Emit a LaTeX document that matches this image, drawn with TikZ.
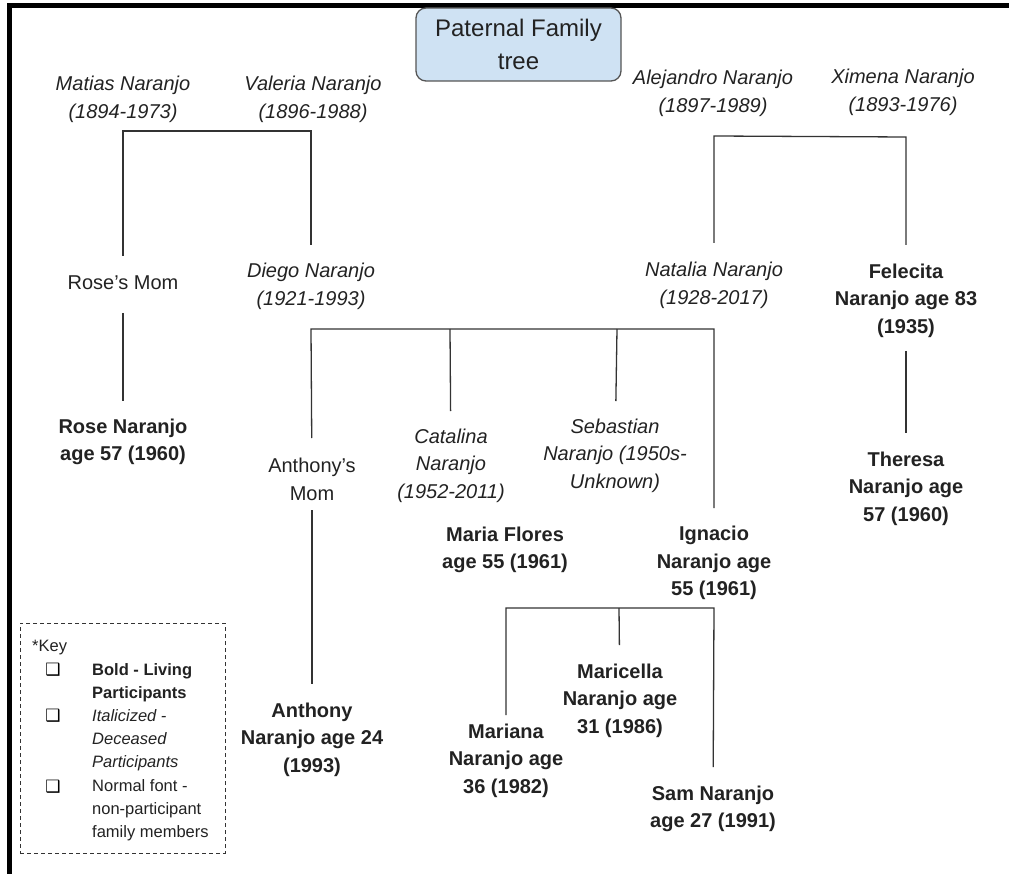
\documentclass[tikz,border=0pt]{standalone}
\usepackage{fontspec}
\setmainfont{Liberation Sans}
\newfontfamily\symfont{DejaVu Sans}
\definecolor{inkgray}{HTML}{222222}
\definecolor{linegray}{HTML}{333333}
\definecolor{titlefill}{HTML}{CFE2F3}
\definecolor{titleedge}{HTML}{555555}
\begin{document}
\begin{tikzpicture}[x=1pt,y=-1pt,
  person/.style={align=center,inner sep=0pt,text=inkgray,
    font=\fontsize{20}{27.5}\selectfont},
  dead/.style={person,font=\fontsize{20}{27.5}\selectfont\itshape},
  alive/.style={person,font=\fontsize{20}{27.5}\selectfont\bfseries},
  link/.style={draw=linegray,line width=1.3pt},
  titlebox/.style={draw=titleedge,line width=1.3pt,fill=titlefill,rounded corners=10pt,
    minimum width=205pt,minimum height=73pt,align=center,text=inkgray,
    font=\fontsize{24}{33}\selectfont},
  keybox/.style={draw=linegray,line width=1pt,dash pattern=on 4pt off 3pt,
    minimum width=205pt,minimum height=230pt,inner sep=0pt},
  keytext/.style={anchor=west,align=left,inner sep=0pt,text=inkgray,
    font=\fontsize{16.5}{22.8}\selectfont},
  keymark/.style={inner sep=0pt,text=black,font=\symfont\fontsize{17}{17}\selectfont}
]
\useasboundingbox (0,0) rectangle (1009,874);

% page frame (top and left edges)
\draw[line width=5pt,black] (9.5,874) -- (9.5,5.5) -- (1009,5.5);

% title
\node[titlebox] (title) at (518.5,44.5) {Paternal Family\\tree};

% grandparents
\node[dead] (matias)    at (123,99.5)  {Matias Naranjo\\(1894-1973)};
\node[dead] (valeria)   at (313,99.5)  {Valeria Naranjo\\(1896-1988)};
\node[dead] (alejandro) at (713,93.5)  {Alejandro Naranjo\\(1897-1989)};
\node[dead] (ximena)    at (903,92.5)  {Ximena Naranjo\\(1893-1976)};

% parents' generation
\node[person] (rosemom) at (123,283)   {Rose’s Mom};
\node[dead] (diego)     at (311,286.5) {Diego Naranjo\\(1921-1993)};
\node[dead] (natalia)   at (714,285.5) {Natalia Naranjo\\(1928-2017)};
\node[alive] (felecita) at (906,300.5) {Felecita\\Naranjo age 83\\(1935)};

% children
\node[alive] (rose)       at (123,442)   {Rose Naranjo\\age 57 (1960)};
\node[person] (anthmom)   at (312,479.5) {Anthony’s\\Mom};
\node[dead] (catalina)    at (451,465.5) {Catalina\\Naranjo\\(1952-2011)};
\node[dead] (sebastian)   at (615,455.5) {Sebastian\\Naranjo (1950s-\\Unknown)};
\node[alive] (theresa)    at (906,488.5) {Theresa\\Naranjo age\\57 (1960)};
\node[alive] (maria)      at (505,550)   {Maria Flores\\age 55 (1961)};
\node[alive] (ignacio)    at (714,563)   {Ignacio\\Naranjo age\\55 (1961)};

% grandchildren
\node[alive] (anthony)   at (312,739.5) {Anthony\\Naranjo age 24\\(1993)};
\node[alive] (maricella) at (620,700.5) {Maricella\\Naranjo age\\31 (1986)};
\node[alive] (mariana)   at (506,760.5) {Mariana\\Naranjo age\\36 (1982)};
\node[alive] (sam)       at (713,809)   {Sam Naranjo\\age 27 (1991)};

% junction points of the family brackets
\coordinate (mvL) at (123,131);
\coordinate (mvR) at (311,131);
\coordinate (axL) at (714,136);
\coordinate (axR) at (906,137);
\coordinate (dnL) at (311,329);
\coordinate (dnR) at (714,329);
\coordinate (dnC) at (450,329);
\coordinate (dnS) at (617,329);
\coordinate (miL) at (506,608);
\coordinate (miR) at (714,608);
\coordinate (miC) at (619,608);

% Matias & Valeria -> Rose's Mom, Diego
\draw[link,shorten <=27pt,shorten >=41.5pt] (rosemom.center) -- (mvL) -- (mvR) -- (diego.center);
% Alejandro & Ximena -> Natalia, Felecita
\draw[link,shorten <=42.5pt,shorten >=55.5pt] (natalia.center) -- (axL) -- (axR) -- (felecita.center);
% Rose's Mom -> Rose
\draw[link,shorten <=30pt,shorten >=41pt] (rosemom.center) -- (rose.center);
% Diego & Natalia -> their children
\draw[link,shorten <=41.5pt,shorten >=55pt] (anthmom.center) -- (dnL) -- (dnR) -- (ignacio.center);
\draw[link,shorten >=54.5pt] (dnC) -- (catalina.center);
\draw[link,shorten >=54.5pt] (dnS) -- (sebastian.center);
% Felecita -> Theresa
\draw[link,shorten <=50.5pt,shorten >=55.5pt] (felecita.center) -- (theresa.center);
% Anthony's Mom -> Anthony
\draw[link,shorten <=30.5pt,shorten >=55.5pt] (anthmom.center) -- (anthony.center);
% Maria & Ignacio -> their children
\draw[link,shorten <=45.5pt,shorten >=42pt] (mariana.center) -- (miL) -- (miR) -- (sam.center);
\draw[link,shorten >=55.5pt] (miC) -- (maricella.center);

% key
\node[keybox] (keyframe) at (122.5,738) {};
\node[keytext] (keyhead) at (32,648) {*Key};
\node[keymark] (m1) at (53,670) {❑};
\node[keymark] (m2) at (53,716) {❑};
\node[keymark] (m3) at (53,787) {❑};
\node[keytext,font=\fontsize{16.5}{22.8}\selectfont\bfseries] (k1) at (92,683) {Bold - Living\\Participants};
\node[keytext,font=\fontsize{16.5}{22.8}\selectfont\itshape] (k2) at (92,740.5) {Italicized -\\Deceased\\Participants};
\node[keytext] (k3) at (92,810.5) {Normal font -\\non-participant\\family members};
\end{tikzpicture}
\end{document}
